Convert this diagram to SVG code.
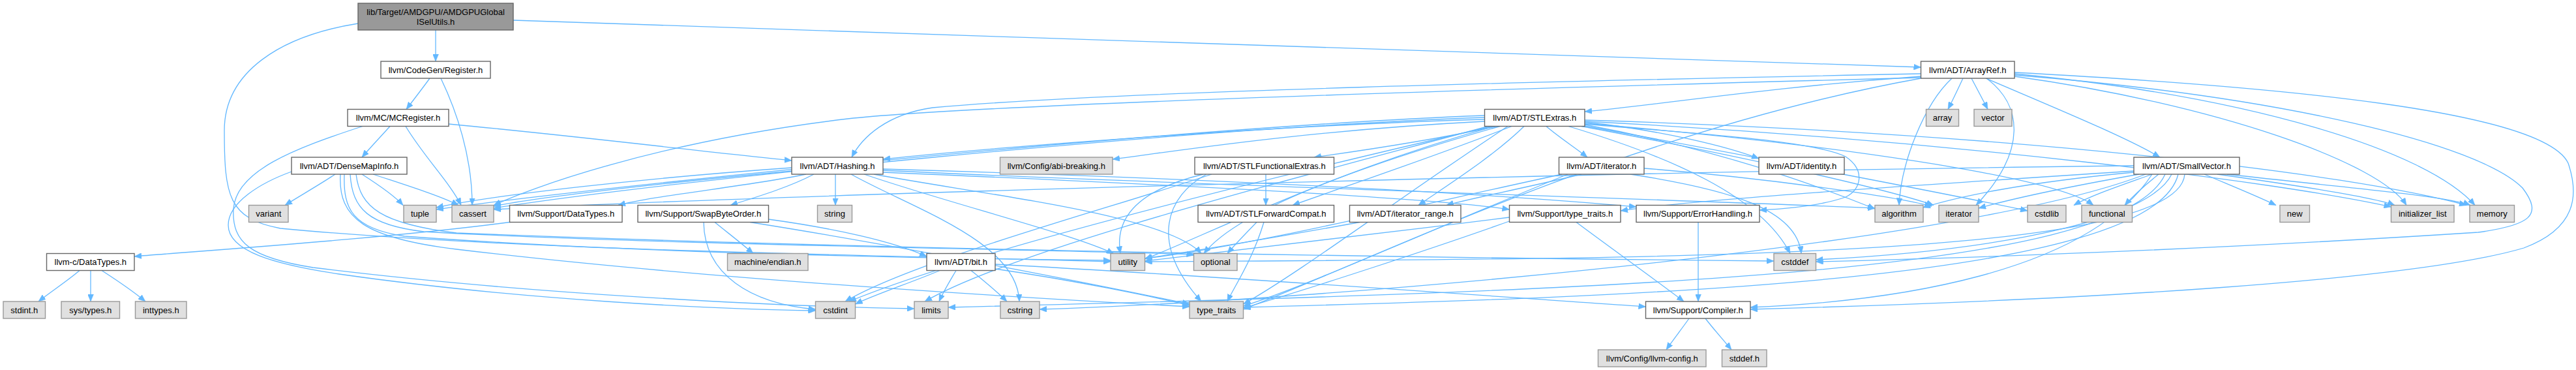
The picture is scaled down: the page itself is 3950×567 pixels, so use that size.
<svg xmlns="http://www.w3.org/2000/svg" width="3950" height="567" viewBox="0 0 3950 567">
<style>
.e{fill:none;stroke:#63b8ff;stroke-width:1.3;marker-end:url(#ah)}
.n rect{fill:#ffffff;stroke:#666666;stroke-width:1.4}
.x rect{fill:#e0e0e0;stroke:#999999;stroke-width:1.4}
.r rect{fill:#999999;stroke:#666666;stroke-width:1.4}
text{font-family:"Liberation Sans",Arial,Helvetica,sans-serif;font-size:13px;fill:#000;text-anchor:middle}
</style>
<defs>
<marker id="ah" markerUnits="userSpaceOnUse" markerWidth="12" markerHeight="9" refX="11" refY="4.5" orient="auto">
<path d="M0,0 L11,4.5 L0,9 z" fill="#63b8ff" stroke="#63b8ff" stroke-width="0.5"/>
</marker>
</defs>
<rect width="3950" height="567" fill="#ffffff"/>
<g id="edges">
<path class="e" d="M668,46 C668,62 668,78 668,94"/>
<path class="e" d="M787,31 C1500,55 2300,82 2945.5,103"/>
<path class="e" d="M549,36 C430,55 344,110 344,200 C344,300 350,335 430,350 C800,385 1400,392 1703,401"/>
<path class="e" d="M659,120 C648,135 635,152 623,167.5"/>
<path class="e" d="M676,120 C700,170 724,240 724,314.5"/>
<path class="e" d="M598,193.5 C585,208 568,226 555,241"/>
<path class="e" d="M688,190 C900,210 1100,235 1214,246"/>
<path class="e" d="M622,193.5 C650,240 690,280 707,314.5"/>
<path class="e" d="M556,193.5 C450,228 362,262 358,320 C355,372 385,395 480,410 C800,450 1200,470 1402,473"/>
<path class="e" d="M514,267 C490,283 460,300 437,314.5"/>
<path class="e" d="M555,267 C580,283 605,300 618,314.5"/>
<path class="e" d="M572,267 C620,283 675,300 703,314.5"/>
<path class="e" d="M447,263 C400,280 350,310 350,345 C350,385 420,405 520,420 C800,460 1100,474 1250.5,476"/>
<path class="e" d="M528,267 C526,320 540,350 620,362 C1000,390 1500,397 1703,399"/>
<path class="e" d="M537,267 C540,320 565,345 650,355 C1000,375 1600,382 1830.5,390"/>
<path class="e" d="M546,267 C552,318 585,343 700,357 C1400,385 2300,396 2720,400"/>
<path class="e" d="M522,267 C518,335 560,365 700,382 C1100,430 1600,458 1824,470"/>
<path class="e" d="M1236,267 C1150,285 1000,300 948,314.5"/>
<path class="e" d="M1248,267 C1210,287 1160,302 1120,314.5"/>
<path class="e" d="M1281,267 C1281,283 1281,298 1281,314.5"/>
<path class="e" d="M1214,257 C1000,272 760,298 669,318"/>
<path class="e" d="M1214,262 C1000,282 820,303 757,316"/>
<path class="e" d="M1354,261 C1800,283 2500,303 2875,319"/>
<path class="e" d="M1305,267 C1400,320 1560,370 1563,462"/>
<path class="e" d="M1340,267 C1520,300 1790,330 1842,388.5"/>
<path class="e" d="M1325,267 C1450,310 1650,360 1708,389"/>
<path class="e" d="M1354,264 C1800,283 2200,303 2314.5,321"/>
<path class="e" d="M1354,259 C1900,275 2300,298 2509,317"/>
<path class="e" d="M2276.5,183 C1950,192 1500,228 1354,244"/>
<path class="e" d="M2276.5,186 C2000,200 1800,232 1706,244"/>
<path class="e" d="M2295,193.5 C2200,214 2080,232 2015,241"/>
<path class="e" d="M2318,193.5 C2200,240 2050,290 1982,314.5"/>
<path class="e" d="M2337,193.5 C2290,240 2210,290 2175,314.5"/>
<path class="e" d="M2371,193.5 C2390,210 2415,226 2434,241"/>
<path class="e" d="M2430,187 C2550,200 2650,225 2697,243"/>
<path class="e" d="M2430,190 C2600,205 2780,215 2830,240 C2860,260 2855,290 2830,302 C2790,316 2740,320 2698,322"/>
<path class="e" d="M2430,191 C2650,232 2800,290 2875,320"/>
<path class="e" d="M2276.5,180 C1800,197 1000,280 757,319"/>
<path class="e" d="M2405,193.5 C2560,240 2700,300 2745,388.5"/>
<path class="e" d="M2288,193.5 C2000,260 1500,380 1302,462"/>
<path class="e" d="M2430,193 C2700,242 3000,300 3109,323"/>
<path class="e" d="M2430,189 C2800,220 3150,270 3210,314.5"/>
<path class="e" d="M2430,186 C3000,215 3500,280 3666.5,317"/>
<path class="e" d="M2425,193.5 C2700,245 2900,292 2965,314.5"/>
<path class="e" d="M2282,193.5 C2000,270 1560,380 1418,462"/>
<path class="e" d="M2430,184 C3100,205 3600,265 3782,314.5"/>
<path class="e" d="M2300,193.5 C2100,250 1900,320 1846,388.5"/>
<path class="e" d="M2276.5,177 C1800,195 900,288 669,321"/>
<path class="e" d="M2312,193.5 C2150,300 1990,420 1906.5,466"/>
<path class="e" d="M2292,193.5 C2050,260 1850,360 1755.5,397"/>
<path class="e" d="M2425,267 C2330,290 2250,305 2218,314.5"/>
<path class="e" d="M2500,267 C2650,290 2755,320 2762,388.5"/>
<path class="e" d="M2521,258 C2700,272 2900,300 2962,316"/>
<path class="e" d="M2404,267 C2200,350 2000,440 1906.5,469"/>
<path class="e" d="M2395,267 C2150,320 1900,380 1755.5,396"/>
<path class="e" d="M2417,340.5 C2470,380 2540,430 2582,462"/>
<path class="e" d="M2320,337 C2200,380 2000,445 1906.5,472"/>
<path class="e" d="M2314.5,333 C2100,360 1850,390 1755.5,400"/>
<path class="e" d="M2604,340.5 C2604,380 2604,420 2604,462"/>
<path class="e" d="M2590,488 C2578,505 2566,520 2555,536"/>
<path class="e" d="M2615,488 C2628,505 2642,520 2655,536"/>
<path class="e" d="M1941,267 C1941,283 1941,298 1941,314.5"/>
<path class="e" d="M1858,267 C1700,320 1400,400 1296,462"/>
<path class="e" d="M1850,267 C1790,300 1760,370 1842,462"/>
<path class="e" d="M1845,267 C1750,290 1708,330 1718,388.5"/>
<path class="e" d="M1927,340.5 C1912,356 1896,372 1882,388.5"/>
<path class="e" d="M1938,340.5 C1920,400 1892,440 1882,462"/>
<path class="e" d="M2085,340.5 C1950,365 1800,390 1755.5,396"/>
<path class="e" d="M785,340 C600,365 300,385 206,393"/>
<path class="e" d="M122,414.5 C104,430 78,447 59,462"/>
<path class="e" d="M139,414.5 C139,430 139,446 139,462"/>
<path class="e" d="M156,414.5 C180,430 205,447 223,462"/>
<path class="e" d="M1096,340.5 C1115,356 1136,372 1155,388.5"/>
<path class="e" d="M1079,340.5 C1080,420 1150,465 1250.5,474"/>
<path class="e" d="M1178.5,336 C1280,350 1370,370 1421,393"/>
<path class="e" d="M1150,340.5 C1400,380 1700,440 1824,466"/>
<path class="e" d="M1441,414.5 C1400,432 1340,452 1311.5,466"/>
<path class="e" d="M1466,414.5 C1457,430 1447,446 1440,462"/>
<path class="e" d="M1489,414.5 C1508,430 1528,446 1544,462"/>
<path class="e" d="M1526,405 C1900,425 2300,455 2523.5,470"/>
<path class="e" d="M1526,412 C1650,430 1770,455 1824,468"/>
<path class="e" d="M2945.5,113 C2400,124 1700,140 1430,165 C1360,175 1322,210 1306,241"/>
<path class="e" d="M2945.5,117 C2700,135 2550,160 2430,171"/>
<path class="e" d="M3045,120 C3150,165 3260,210 3312,241"/>
<path class="e" d="M3089,111 C3500,133 3900,170 3938,250 C3955,300 3950,350 3870,380 C3700,430 3200,460 2684,474"/>
<path class="e" d="M3089,115 C3500,148 3800,220 3868,288 C3900,330 3880,345 3800,356 C3400,382 3000,396 2784.5,401"/>
<path class="e" d="M2993,120 C2950,160 2915,250 2912,314.5"/>
<path class="e" d="M3010,120 C3003,135 2995,152 2987,167.5"/>
<path class="e" d="M3023,120 C3031,135 3040,152 3048,167.5"/>
<path class="e" d="M3046,120 C3100,160 3110,230 3030,314.5"/>
<path class="e" d="M2945.5,119 C2300,136 1500,160 1300,182 C1000,218 810,290 757,314.5"/>
<path class="e" d="M3089,117 C3400,160 3650,250 3690,314.5"/>
<path class="e" d="M3089,113 C3450,148 3720,230 3795,314.5"/>
<path class="e" d="M2945.5,120 C2500,200 2100,400 1906.5,474"/>
<path class="e" d="M3300,267 C3200,420 2900,462 2684,471"/>
<path class="e" d="M3272,262 C3000,280 2600,305 2485,323"/>
<path class="e" d="M3272,264 C3100,280 3000,302 2949,318"/>
<path class="e" d="M3272,254 C2500,262 1200,298 757,321"/>
<path class="e" d="M3330,267 C3300,330 3100,382 2784.5,398"/>
<path class="e" d="M3300,267 C3250,285 3205,300 3180,314.5"/>
<path class="e" d="M3290,267 C3000,380 2000,462 1594,474"/>
<path class="e" d="M3310,267 C3290,283 3272,299 3258,314.5"/>
<path class="e" d="M3400,267 C3550,288 3645,304 3672,314.5"/>
<path class="e" d="M3280,267 C3150,290 3080,306 3034,319"/>
<path class="e" d="M3320,267 C3250,420 2500,445 1454,471"/>
<path class="e" d="M3415,267 C3600,288 3750,300 3788,314.5"/>
<path class="e" d="M3380,267 C3420,284 3460,300 3490,314.5"/>
<path class="e" d="M3340,267 C3300,432 2500,455 1906.5,471"/>
<path class="e" d="M3350,267 C3340,400 2500,396 1755.5,401"/>
</g>
<g id="node-root" class="r"><rect x="549" y="5" width="238" height="41"/><text x="668" y="22.5">lib/Target/AMDGPU/AMDGPUGlobal</text><text x="668" y="37.5">ISelUtils.h</text></g>
<g id="node-register" class="n"><rect x="584" y="94" width="168" height="26"/><text x="668" y="111.5">llvm/CodeGen/Register.h</text></g>
<g id="node-arrayref" class="n"><rect x="2945.5" y="94" width="143.5" height="26"/><text x="3017.3" y="111.5">llvm/ADT/ArrayRef.h</text></g>
<g id="node-mcregister" class="n"><rect x="533" y="167.5" width="155" height="26"/><text x="610.5" y="185">llvm/MC/MCRegister.h</text></g>
<g id="node-stlextras" class="n"><rect x="2276.5" y="167.5" width="153.5" height="26"/><text x="2353.3" y="185">llvm/ADT/STLExtras.h</text></g>
<g id="node-array" class="x"><rect x="2953.5" y="167.5" width="50" height="26"/><text x="2978.5" y="185">array</text></g>
<g id="node-vector" class="x"><rect x="3027" y="167.5" width="58" height="26"/><text x="3056" y="185">vector</text></g>
<g id="node-densemapinfo" class="n"><rect x="447" y="241" width="177" height="26"/><text x="535.5" y="258.5">llvm/ADT/DenseMapInfo.h</text></g>
<g id="node-hashing" class="n"><rect x="1214" y="241" width="140" height="26"/><text x="1284" y="258.5">llvm/ADT/Hashing.h</text></g>
<g id="node-abi" class="x"><rect x="1533.5" y="241" width="172.5" height="26"/><text x="1619.8" y="258.5">llvm/Config/abi-breaking.h</text></g>
<g id="node-stlfunc" class="n"><rect x="1832" y="241" width="213.5" height="26"/><text x="1938.8" y="258.5">llvm/ADT/STLFunctionalExtras.h</text></g>
<g id="node-iteratorh" class="n"><rect x="2390.5" y="241" width="130.5" height="26"/><text x="2455.8" y="258.5">llvm/ADT/iterator.h</text></g>
<g id="node-identity" class="n"><rect x="2697" y="241" width="131" height="26"/><text x="2762.5" y="258.5">llvm/ADT/identity.h</text></g>
<g id="node-smallvector" class="n"><rect x="3272" y="241" width="162" height="26"/><text x="3353" y="258.5">llvm/ADT/SmallVector.h</text></g>
<g id="node-variant" class="x"><rect x="381.5" y="314.5" width="60.5" height="26"/><text x="411.8" y="332">variant</text></g>
<g id="node-tuple" class="x"><rect x="619" y="314.5" width="50" height="26"/><text x="644" y="332">tuple</text></g>
<g id="node-cassert" class="x"><rect x="693" y="314.5" width="64" height="26"/><text x="725" y="332">cassert</text></g>
<g id="node-supdatatypes" class="n"><rect x="781.5" y="314.5" width="172.5" height="26"/><text x="867.8" y="332">llvm/Support/DataTypes.h</text></g>
<g id="node-swapbyteorder" class="n"><rect x="978" y="314.5" width="200.5" height="26"/><text x="1078.3" y="332">llvm/Support/SwapByteOrder.h</text></g>
<g id="node-string" class="x"><rect x="1253.5" y="314.5" width="53" height="26"/><text x="1280" y="332">string</text></g>
<g id="node-stlforwardcompat" class="n"><rect x="1837" y="314.5" width="208.5" height="26"/><text x="1941.3" y="332">llvm/ADT/STLForwardCompat.h</text></g>
<g id="node-iteratorrange" class="n"><rect x="2069.5" y="314.5" width="170.5" height="26"/><text x="2154.8" y="332">llvm/ADT/iterator_range.h</text></g>
<g id="node-suptypetraits" class="n"><rect x="2314.5" y="314.5" width="170.5" height="26"/><text x="2399.8" y="332">llvm/Support/type_traits.h</text></g>
<g id="node-errorhandling" class="n"><rect x="2509" y="314.5" width="189" height="26"/><text x="2603.5" y="332">llvm/Support/ErrorHandling.h</text></g>
<g id="node-algorithm" class="x"><rect x="2875" y="314.5" width="74" height="26"/><text x="2912" y="332">algorithm</text></g>
<g id="node-iterator" class="x"><rect x="2973" y="314.5" width="61" height="26"/><text x="3003.5" y="332">iterator</text></g>
<g id="node-cstdlib" class="x"><rect x="3109" y="314.5" width="59" height="26"/><text x="3138.5" y="332">cstdlib</text></g>
<g id="node-functional" class="x"><rect x="3192" y="314.5" width="77.5" height="26"/><text x="3230.8" y="332">functional</text></g>
<g id="node-new" class="x"><rect x="3496" y="314.5" width="45.5" height="26"/><text x="3518.8" y="332">new</text></g>
<g id="node-initializerlist" class="x"><rect x="3666.5" y="314.5" width="96.5" height="26"/><text x="3714.8" y="332">initializer_list</text></g>
<g id="node-memory" class="x"><rect x="3787" y="314.5" width="68.5" height="26"/><text x="3821.3" y="332">memory</text></g>
<g id="node-cdatatypes" class="n"><rect x="71.5" y="388.5" width="134.5" height="26"/><text x="138.8" y="406">llvm-c/DataTypes.h</text></g>
<g id="node-endian" class="x"><rect x="1115.5" y="388.5" width="123.5" height="26"/><text x="1177.3" y="406">machine/endian.h</text></g>
<g id="node-bit" class="n"><rect x="1421" y="388.5" width="105" height="26"/><text x="1473.5" y="406">llvm/ADT/bit.h</text></g>
<g id="node-utility" class="x"><rect x="1703" y="388.5" width="52.5" height="26"/><text x="1729.3" y="406">utility</text></g>
<g id="node-optional" class="x"><rect x="1830.5" y="388.5" width="66.5" height="26"/><text x="1863.8" y="406">optional</text></g>
<g id="node-cstddef" class="x"><rect x="2720" y="388.5" width="64.5" height="26"/><text x="2752.3" y="406">cstddef</text></g>
<g id="node-stdint" class="x"><rect x="5" y="462" width="64.5" height="26"/><text x="37.3" y="479.5">stdint.h</text></g>
<g id="node-systypes" class="x"><rect x="94" y="462" width="89.5" height="26"/><text x="138.8" y="479.5">sys/types.h</text></g>
<g id="node-inttypes" class="x"><rect x="207.5" y="462" width="78.5" height="26"/><text x="246.8" y="479.5">inttypes.h</text></g>
<g id="node-cstdint" class="x"><rect x="1250.5" y="462" width="61" height="26"/><text x="1281" y="479.5">cstdint</text></g>
<g id="node-limits" class="x"><rect x="1402" y="462" width="52" height="26"/><text x="1428" y="479.5">limits</text></g>
<g id="node-cstring" class="x"><rect x="1534" y="462" width="60" height="26"/><text x="1564" y="479.5">cstring</text></g>
<g id="node-typetraits" class="x"><rect x="1824" y="462" width="82.5" height="26"/><text x="1865.3" y="479.5">type_traits</text></g>
<g id="node-compiler" class="n"><rect x="2523.5" y="462" width="160.5" height="26"/><text x="2603.8" y="479.5">llvm/Support/Compiler.h</text></g>
<g id="node-llvmconfig" class="x"><rect x="2450.5" y="536" width="165.5" height="26"/><text x="2533.3" y="553.5">llvm/Config/llvm-config.h</text></g>
<g id="node-stddef" class="x"><rect x="2640.5" y="536" width="68.5" height="26"/><text x="2674.8" y="553.5">stddef.h</text></g>
</svg>
